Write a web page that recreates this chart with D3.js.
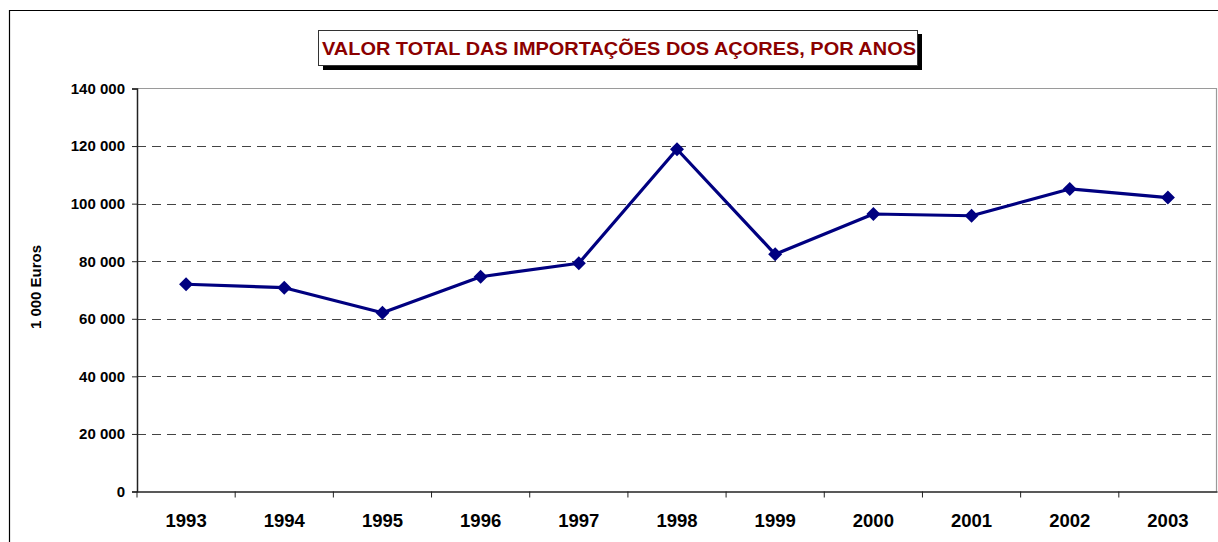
<!DOCTYPE html>
<html>
<head>
<meta charset="utf-8">
<script src="https://cdn.jsdelivr.net/npm/d3@7"></script>
<style>
  body { margin: 0; background: #fff; }
  svg { display: block; font-family: Arial, "Liberation Sans", sans-serif; }
</style>
</head>
<body>
<div id="chart"></div>
<script>
// data
var years = ["1993", "1994", "1995", "1996", "1997", "1998", "1999", "2000", "2001", "2002", "2003"];
var imports = [72000, 70800, 62100, 74600, 79300, 118900, 82400, 96400, 95800, 105100, 102100];
var yTicks = [0, 20000, 40000, 60000, 80000, 100000, 120000, 140000];

var font = "Arial, 'Liberation Sans', sans-serif";
var width = 1218, height = 542;
var margin = { top: 88.5, right: 1, bottom: 50.5, left: 137 };

var svg = d3.select("#chart").append("svg")
  .attr("width", width)
  .attr("height", height);

// outer chart frame
svg.append("path")
  .attr("d", "M9.5,545 V10.5 H1220")
  .attr("fill", "none")
  .attr("stroke", "#000")
  .attr("stroke-width", 1.2);

var x = d3.scaleBand()
  .domain(years)
  .range([margin.left, width - margin.right]);

var y = d3.scaleLinear()
  .domain([0, 140000])
  .range([height - margin.bottom, margin.top]);

// plot area border (top + right, grey)
svg.append("path")
  .attr("d", "M" + margin.left + "," + y(140000) + " H" + (width - margin.right - 0.5) + " V" + y(0))
  .attr("fill", "none")
  .attr("stroke", "#9a9a9a")
  .attr("stroke-width", 1.2);

// dashed gridlines
svg.selectAll("line.grid")
  .data(yTicks.filter(d => d > 0 && d < 140000))
  .enter().append("line")
  .attr("class", "grid")
  .attr("x1", margin.left)
  .attr("x2", width - margin.right - 1)
  .attr("y1", d => Math.round(y(d)) + 0.5)
  .attr("y2", d => Math.round(y(d)) + 0.5)
  .attr("stroke", "#444")
  .attr("stroke-width", 1)
  .attr("stroke-dasharray", "9,6");

// y axis
var yAxis = svg.append("g")
  .attr("transform", "translate(" + margin.left + ",0)")
  .call(d3.axisLeft(y)
    .tickValues(yTicks)
    .tickSize(5)
    .tickPadding(7)
    .tickFormat(d => d3.format(",")(d).replace(/,/g, " ")))
  .attr("font-family", font)
  .attr("font-size", 15)
  .attr("font-weight", "bold");
yAxis.select(".domain").attr("stroke", "#222").attr("stroke-width", 1.5);
yAxis.selectAll(".tick line").attr("stroke", "#222");
yAxis.selectAll("text").attr("fill", "#000");

// x axis, ticks between categories
var xAxis = svg.append("g")
  .attr("transform", "translate(0," + y(0) + ")")
  .call(d3.axisBottom(x).tickSize(0).tickPadding(22))
  .attr("font-family", font)
  .attr("font-size", 18.5)
  .attr("font-weight", "bold");
xAxis.select(".domain").attr("stroke", "#222").attr("stroke-width", 1.5);
xAxis.selectAll("text").attr("fill", "#000");

svg.selectAll("line.xtick")
  .data(years)
  .enter().append("line")
  .attr("class", "xtick")
  .attr("x1", d => x(d))
  .attr("x2", d => x(d))
  .attr("y1", y(0))
  .attr("y2", y(0) + 6)
  .attr("stroke", "#222");

// y axis title
svg.append("text")
  .attr("transform", "translate(41," + 287 + ") rotate(-90)")
  .attr("text-anchor", "middle")
  .attr("font-family", font)
  .style("font-size", "15px")
  .style("font-weight", "bold")
  .text("1 000 Euros");

// the series
var line = d3.line()
  .x((d, i) => x(years[i]) + x.bandwidth() / 2)
  .y(d => y(d));

svg.append("path")
  .datum(imports)
  .attr("d", line)
  .attr("fill", "none")
  .attr("stroke", "#000080")
  .attr("stroke-width", 3.2)
  .attr("stroke-linejoin", "round");

svg.selectAll("path.marker")
  .data(imports)
  .enter().append("path")
  .attr("class", "marker")
  .attr("d", d3.symbol().type(d3.symbolDiamond2).size(125))
  .attr("transform", (d, i) => "translate(" + (x(years[i]) + x.bandwidth() / 2) + "," + y(d) + ")")
  .attr("fill", "#000080");

// title box with shadow
var titleG = svg.append("g");
titleG.append("rect")
  .attr("x", 323).attr("y", 34).attr("width", 599).attr("height", 36)
  .attr("fill", "#000");
titleG.append("rect")
  .attr("x", 318.5).attr("y", 30.5).attr("width", 599).attr("height", 35)
  .attr("fill", "#fff")
  .attr("stroke", "#333")
  .attr("stroke-width", 1);
titleG.append("text")
  .attr("x", 619).attr("y", 55)
  .attr("text-anchor", "middle")
  .attr("fill", "#8b0000")
  .attr("font-family", font)
  .style("font-size", "19px")
  .style("font-weight", "bold")
  .attr("textLength", 594)
  .attr("lengthAdjust", "spacingAndGlyphs")
  .text("VALOR TOTAL DAS IMPORTAÇÕES DOS AÇORES, POR ANOS");
</script>
</body>
</html>
